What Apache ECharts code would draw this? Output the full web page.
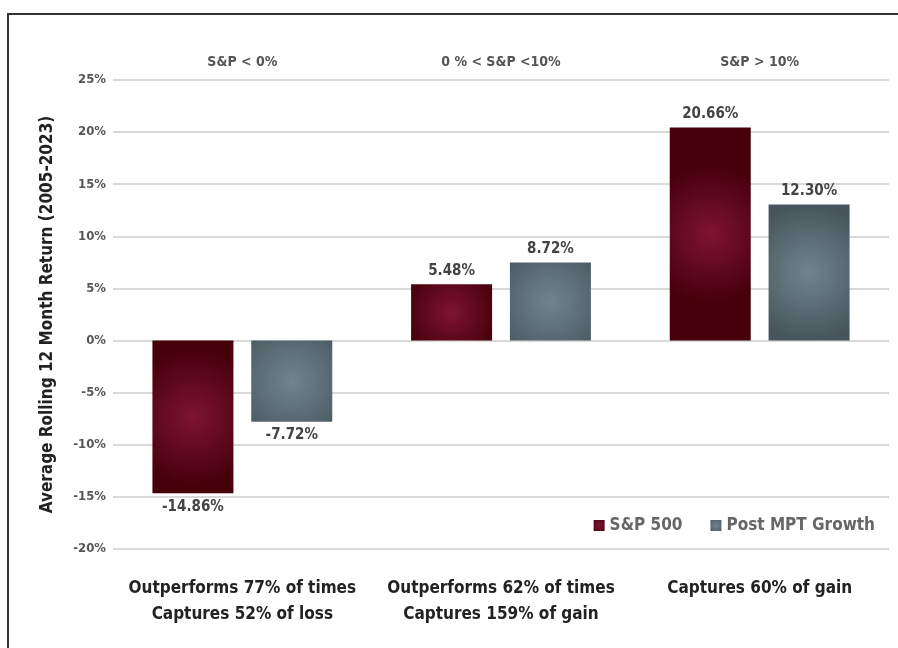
<!DOCTYPE html>
<html>
<head>
<meta charset="utf-8">
<script src="https://cdn.jsdelivr.net/npm/echarts@6/dist/echarts.min.js"></script>
<style>
  html, body { margin: 0; padding: 0; background: #fff; }
  #chart { width: 898px; height: 648px; }
</style>
</head>
<body>
<div id="chart"></div>
<script>
const topLabels = ['S&P < 0%', '0 % < S&P <10%', 'S&P > 10%']
const bottomLabels = [
  'Outperforms 77% of times\nCaptures 52% of loss',
  'Outperforms 62% of times\nCaptures 159% of gain',
  'Captures 60% of gain'
]
// bar heights as drawn in the picture, and the printed labels
const sp500 = [-14.65, 5.4, 20.45]
const postMpt = [-7.8, 7.5, 13.05]
const sp500Labels = ['-14.86%', '5.48%', '20.66%']
const postMptLabels = ['-7.72%', '8.72%', '12.30%']
const yTicks = { min: -20, max: 25, step: 5 }

const FONT = "'Liberation Sans Narrow', 'DejaVu Sans Condensed', sans-serif"

const radial = (inner, outer) => ({
  type: 'radial', x: 0.5, y: 0.5, r: 0.85,
  colorStops: [{ offset: 0, color: inner }, { offset: 1, color: outer }]
})
const maroon = radial('#7e1333', '#45000b')
const slate = radial('#70848d', '#46555c')

const labelFor = (texts) => (p) => texts[p.dataIndex]

const mkData = (vals) => vals.map(v => ({
  value: v,
  label: { position: v < 0 ? 'bottom' : 'top' }
}))

const chart = echarts.init(document.getElementById('chart'))
chart.setOption({
  backgroundColor: '#fff',
  textStyle: { fontFamily: FONT },
  grid: { left: 113, right: 9, top: 80, bottom: 99 },
  graphic: [{
    type: 'rect', silent: true, z: 100,
    shape: { x: 8, y: 14, width: 1000, height: 1000 },
    style: { fill: 'none', stroke: '#333', lineWidth: 2 }
  }],
  legend: {
    right: 18, top: 512,
    itemWidth: 11, itemHeight: 11, itemGap: 28,
    icon: 'rect',
    textStyle: { fontFamily: FONT, fontWeight: 'bold', fontSize: 17, color: '#666' },
    data: ['S&P 500', 'Post MPT Growth']
  },
  xAxis: [{
    type: 'category',
    data: bottomLabels,
    axisLine: { show: false }, axisTick: { show: false },
    axisLabel: {
      margin: 27, lineHeight: 26, fontFamily: FONT, fontWeight: 'bold',
      fontSize: 17, color: '#222', interval: 0
    }
  }, {
    type: 'category',
    position: 'top',
    data: topLabels,
    axisLine: { show: false }, axisTick: { show: false },
    axisLabel: { margin: 11, fontFamily: FONT, fontWeight: 'bold', fontSize: 14, color: '#555', interval: 0 }
  }],
  yAxis: {
    type: 'value',
    min: yTicks.min, max: yTicks.max, interval: yTicks.step,
    name: 'Average Rolling 12 Month Return (2005-2023)',
    nameLocation: 'middle', nameRotate: 90, nameGap: 57,
    nameTextStyle: { fontFamily: FONT, fontWeight: 'bold', fontSize: 17, color: '#222' },
    axisLine: { show: false }, axisTick: { show: false },
    axisLabel: { formatter: '{value}%', margin: 7, fontFamily: FONT, fontWeight: 'bold', fontSize: 13, color: '#555' },
    splitLine: { show: true, lineStyle: { color: '#d9d9d9', width: 2 } }
  },
  series: [{
    name: 'S&P 500', type: 'bar',
    barWidth: 81, barGap: '22%',
    itemStyle: { color: maroon },
    label: {
      show: true, distance: 6, formatter: labelFor(sp500Labels),
      fontFamily: FONT, fontWeight: 'bold', fontSize: 15, color: '#444'
    },
    data: mkData(sp500)
  }, {
    name: 'Post MPT Growth', type: 'bar',
    barWidth: 81,
    itemStyle: { color: slate },
    label: {
      show: true, distance: 6, formatter: labelFor(postMptLabels),
      fontFamily: FONT, fontWeight: 'bold', fontSize: 15, color: '#444'
    },
    data: mkData(postMpt)
  }]
})
</script>
</body>
</html>
